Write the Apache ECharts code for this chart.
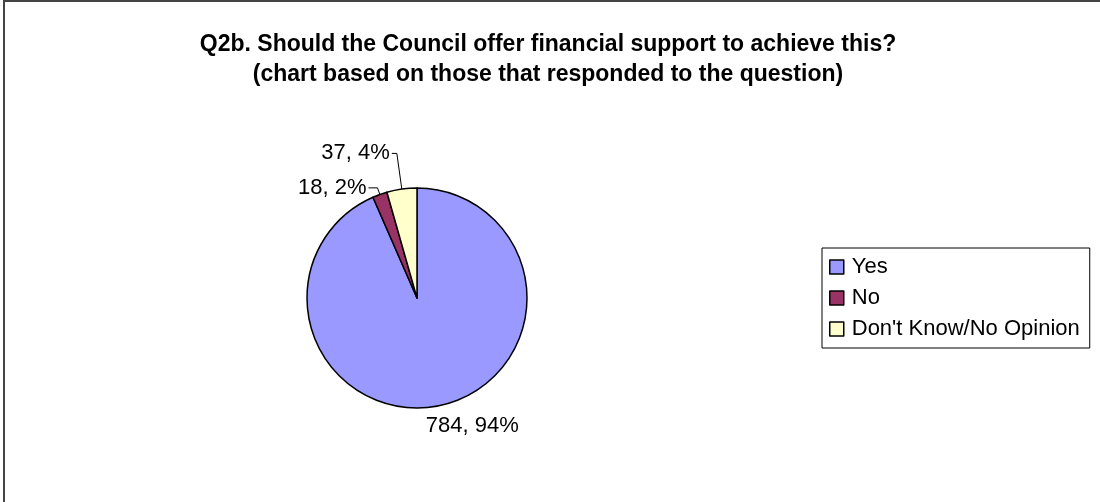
<!DOCTYPE html>
<html><head><meta charset="utf-8">
<script src="https://cdn.jsdelivr.net/npm/echarts@6/dist/echarts.min.js"></script>
<style>html,body{margin:0;padding:0;background:#fff}#c{width:1100px;height:502px}</style>
</head><body><div id="c"></div>
<script>
const titleLines = ['Q2b. Should the Council offer financial support to achieve this?', '(chart based on those that responded to the question)'];
const categories = ['Yes', 'No', "Don't Know/No Opinion"];
const counts = [784, 18, 37];
const percents = [94, 2, 4];
const colors = ['#9999FF', '#993366', '#FFFFCC'];

const chart = echarts.init(document.getElementById('c'));
const font = '"Liberation Sans", Arial, sans-serif';
const lineCfg = [
  {show: false, length: 21, length2: 0},
  {show: true, length: 7, length2: 9},
  {show: true, length: 36, length2: 5}
];
const labelCfg = [
  {distanceToLabelLine: -18},
  {},
  {}
];
chart.setOption({
  animation: false,
  backgroundColor: '#fff',
  graphic: [{type: 'rect', shape: {x: 4, y: 1, width: 1200, height: 600}, style: {fill: 'none', stroke: '#444', lineWidth: 2}, silent: true}],
  title: {
    text: titleLines.join('\n'), left: 543, textAlign: 'center', top: 25,
    textStyle: {fontFamily: font, fontWeight: 'bold', fontSize: 23, lineHeight: 30, color: '#000'}
  },
  legend: {
    orient: 'vertical', left: 822, top: 248, width: 270,
    borderColor: '#000', borderWidth: 1, padding: [8, 10, 8, 7],
    itemWidth: 14, itemHeight: 14, itemGap: 9, icon: 'rect',
    itemStyle: {borderColor: '#000', borderWidth: 1.5},
    textStyle: {fontFamily: font, fontSize: 22, lineHeight: 22, color: '#000', padding: [0, 0, 0, 3]},
    data: categories
  },
  series: [{
    type: 'pie', center: [417, 298], radius: 110, startAngle: 90, clockwise: true,
    avoidLabelOverlap: false,
    labelLayout: {hideOverlap: false},
    itemStyle: {borderColor: '#000', borderWidth: 1.5},
    label: {show: true, position: 'outside', fontFamily: font, fontSize: 22, color: '#000', distanceToLabelLine: 2,
      formatter: p => counts[p.dataIndex] + ', ' + percents[p.dataIndex] + '%'},
    labelLine: {lineStyle: {color: '#000', width: 1}},
    data: categories.map((n, i) => ({name: n, value: counts[i], itemStyle: {color: colors[i]}, labelLine: lineCfg[i], label: labelCfg[i]}))
  }]
});
</script></body></html>
